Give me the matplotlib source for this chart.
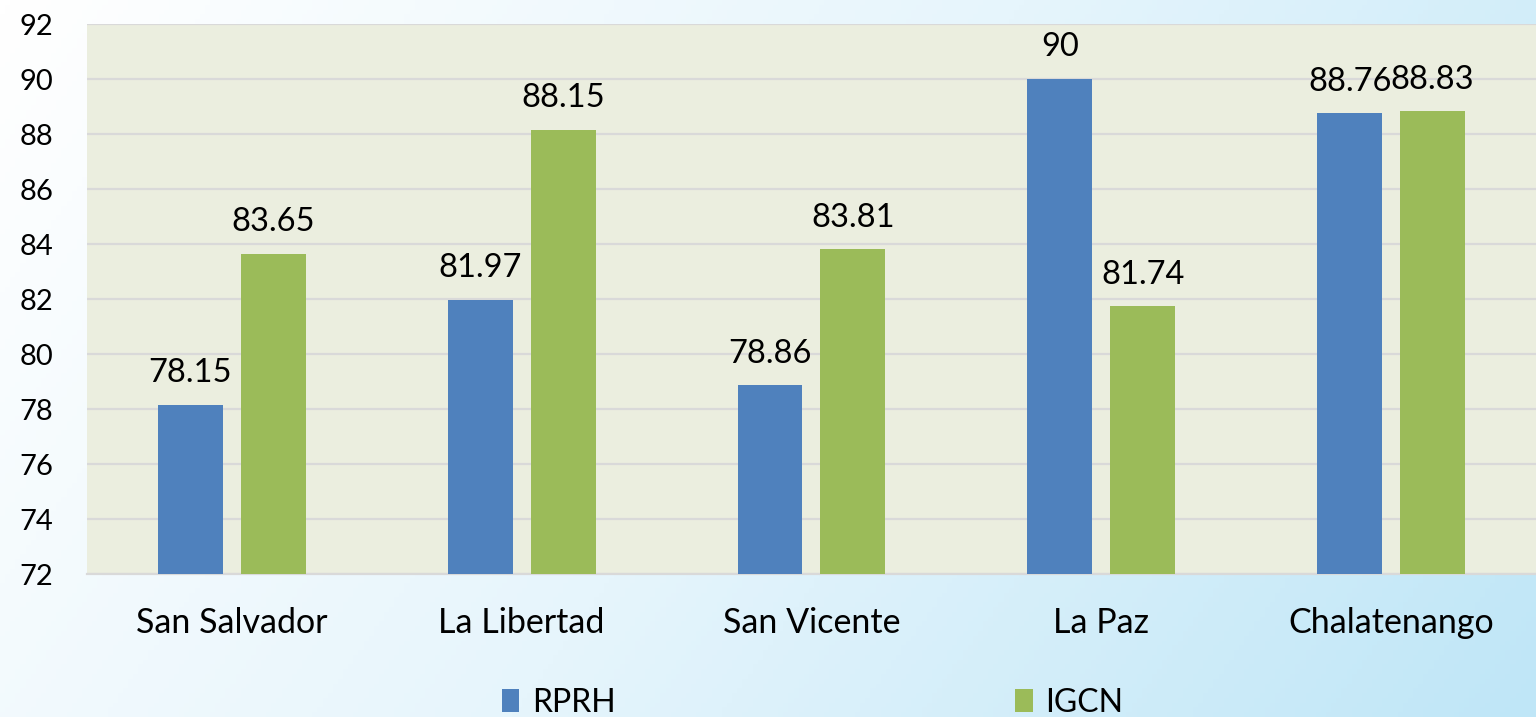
import numpy as np
import matplotlib.pyplot as plt
from matplotlib.colors import LinearSegmentedColormap

plt.rcParams['font.family'] = ['Lato', 'DejaVu Sans']

departments = ['San Salvador', 'La Libertad', 'San Vicente', 'La Paz', 'Chalatenango']
rprh = [78.15, 81.97, 78.86, 90, 88.76]
igcn = [83.65, 88.15, 83.81, 81.74, 88.83]
series_names = ['RPRH', 'IGCN']

fig = plt.figure(figsize=(15.36, 7.17), dpi=100)

# gradient background (white -> light blue)
bg = fig.add_axes([0, 0, 1, 1], zorder=-10)
xx, yy = np.meshgrid(np.linspace(0, 1, 300), np.linspace(0, 1, 150))
grad = np.clip(0.75 * xx + 0.25 * yy, 0, 1)
cmap = LinearSegmentedColormap.from_list('bg', ['#ffffff', '#e6f5fc', '#bfe6f7'])
bg.imshow(grad, cmap=cmap, aspect='auto', extent=[0, 1, 0, 1], origin='upper')
bg.axis('off')

ax = fig.add_axes([0.0566, 0.1994, 0.9434, 0.767])
ax.set_facecolor('#ebeedf')

x = np.arange(len(departments))
w = 0.224
off = 0.143
b1 = ax.bar(x - off, rprh, w, color='#4f81bd', label=series_names[0], zorder=3)
b2 = ax.bar(x + off, igcn, w, color='#9bbb59', label=series_names[1], zorder=3)

for bars in (b1, b2):
    for rect in bars:
        v = rect.get_height()
        ax.annotate(f'{v:g}', (rect.get_x() + rect.get_width() / 2, v),
                    xytext=(0, 12), textcoords='offset points',
                    ha='center', va='bottom', fontsize=23.5)

ax.set_ylim(72, 92)
ax.set_yticks(range(72, 93, 2))
ax.set_xlim(-0.5, len(departments) - 0.5)
ax.set_xticks(x)
ax.set_xticklabels(departments)
ax.tick_params(axis='both', length=0)
ax.tick_params(axis='x', pad=24, labelsize=24.5)
ax.tick_params(axis='y', pad=24, labelsize=21)
ax.grid(axis='y', color='#d9d9d9', linewidth=1.6, zorder=0)
for s in ['top', 'right', 'left']:
    ax.spines[s].set_visible(False)
ax.spines['bottom'].set_color('#d9d9d9')
ax.spines['bottom'].set_linewidth(1.6)

fig.legend(loc='center', bbox_to_anchor=(0.529, 0.02), ncol=2, frameon=False,
           fontsize=23, handlelength=0.55, handleheight=0.7, handletextpad=0.4,
           columnspacing=12.5)

fig.savefig('out.png', dpi=100)
